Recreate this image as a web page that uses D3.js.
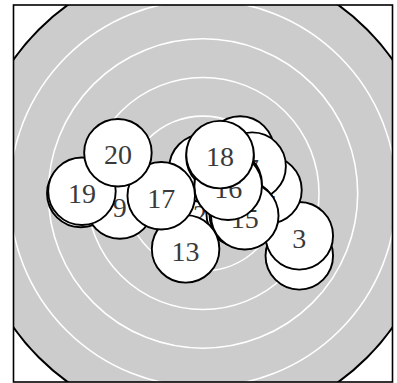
<!DOCTYPE html>
<html>
<head>
<meta charset="utf-8">
<script src="https://cdn.jsdelivr.net/npm/d3@7"></script>
<style>
  body { margin: 0; background: #fff; }
  .shot text { font-family: "Liberation Serif", "DejaVu Serif", serif; font-size: 28px; fill: #3a3a3a; text-anchor: middle; }
</style>
</head>
<body>
<svg width="397" height="383"></svg>
<script>
//Target data : radius of the black outlined disc and of the white ring lines (target units)
let targetRadius = 6;
let ringRadii = [1, 2, 3, 4, 5];
//Shots : number, x and y position in target units, and the radius of one shot hole
let shotNumbers = [1, 2, 3, 4, 5, 6, 7, 8, 9, 10, 11, 12, 13, 14, 15, 16, 17, 18, 19, 20];
let shotX = [2.49, -0.08, 2.49, 1.68, 0.96, -3.16, 1.27, 0.00, -2.15, 0.96, 1.04, 0.65, -0.45, 0.44, 1.08, 0.65, -1.08, 0.44, -3.13, -2.20];
let shotY = [-1.62, -0.48, -1.10, 0.09, 1.13, 0.00, 0.71, 0.66, -0.30, -0.51, -0.53, 0.25, -1.44, 0.95, -0.58, 0.19, -0.06, 1.01, 0.06, 1.06];
let shotRadius = 0.873;
//Visible window of the target
let extent = [-4.9, 4.9];

let svg = d3.select("svg"),
    frame = {left: 13.5, right: 392.5, top: 5, bottom: 382};

let x = d3.scaleLinear().domain(extent).range([frame.left, frame.right]),
    y = d3.scaleLinear().domain(extent).range([frame.bottom, frame.top]);

//Length in pixels of a distance in target units
function len(d){ return x(d) - x(0); }

//Everything of the target is clipped to the square frame
svg.append("clipPath")
   .attr("id", "frameclip")
   .append("rect")
   .attr("x", frame.left)
   .attr("y", frame.top)
   .attr("width", frame.right - frame.left)
   .attr("height", frame.bottom - frame.top);

let target = svg.append("g").attr("clip-path", "url(#frameclip)");

target.append("circle") //Gray disc with black outline
      .attr("cx", x(0))
      .attr("cy", y(0))
      .attr("r", len(targetRadius))
      .attr("fill", "#cccccc")
      .attr("stroke", "#000")
      .attr("stroke-width", 2);

target.selectAll(".ring") //White ring lines
      .data(ringRadii)
      .enter().append("circle")
      .attr("class", "ring")
      .attr("cx", x(0))
      .attr("cy", y(0))
      .attr("r", d => len(d))
      .attr("fill", "none")
      .attr("stroke", "#fff")
      .attr("stroke-width", 1.6);

//Shots drawn in order so the last ones are on top
let shots = target.selectAll(".shot")
      .data(shotNumbers)
      .enter().append("g")
      .attr("class", "shot")
      .attr("transform", (d, i) => "translate(" + x(shotX[i]) + "," + y(shotY[i]) + ")");

shots.append("circle")
     .attr("r", len(shotRadius))
     .attr("fill", "#fff")
     .attr("stroke", "#000")
     .attr("stroke-width", 1.9);

shots.append("text")
     .attr("dy", "0.42em")
     .text(d => d);

svg.append("rect") //Frame border
   .attr("x", frame.left)
   .attr("y", frame.top)
   .attr("width", frame.right - frame.left)
   .attr("height", frame.bottom - frame.top)
   .attr("fill", "none")
   .attr("stroke", "#000")
   .attr("stroke-width", 1.6);
</script>
</body>
</html>
